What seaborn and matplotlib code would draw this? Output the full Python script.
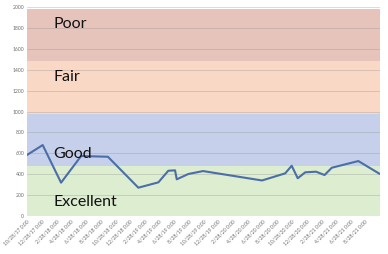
import matplotlib
matplotlib.use("Agg")
import matplotlib.pyplot as plt
import seaborn as sns
import pandas as pd

# ---- data ----
dates = ["2017-10-28", "2018-01-01", "2018-03-18", "2018-06-09", "2018-09-28",
         "2019-02-01", "2019-04-25", "2019-06-05", "2019-07-03", "2019-07-10",
         "2019-08-27", "2019-10-27", "2020-06-27", "2020-10-01", "2020-10-28",
         "2020-11-22", "2020-12-23", "2021-02-06", "2021-03-13", "2021-04-12",
         "2021-07-31", "2021-10-28"]
values = [584, 679, 319, 574, 567,
          271, 322, 433, 437, 351,
          402, 430, 340, 408, 481,
          361, 418, 424, 392, 462,
          526, 402]

band_names = ["Excellent", "Good", "Fair", "Poor"]
band_lower = [0, 480, 980, 1480]
band_upper = [480, 980, 1480, 1980]
band_colors = ["#DDEDD0", "#C6D0EA", "#F9D9C6", "#E7C4BB"]
label_values = [134, 593, 1330, 1837]

tick_dates = ["2017-10-28", "2017-12-28", "2018-02-28", "2018-04-28", "2018-06-28",
              "2018-08-28", "2018-10-28", "2018-12-28", "2019-02-28", "2019-04-28",
              "2019-06-28", "2019-08-28", "2019-10-28", "2019-12-28", "2020-02-28",
              "2020-04-28", "2020-06-28", "2020-08-28", "2020-10-28", "2020-12-28",
              "2021-02-28", "2021-04-28", "2021-06-28", "2021-08-28"]
tick_labels = ["10/28/17 0:00", "12/28/17 0:00", "2/28/18 0:00", "4/28/18 0:00",
               "6/28/18 0:00", "8/28/18 0:00", "10/28/18 0:00", "12/28/18 0:00",
               "2/28/19 0:00", "4/28/19 0:00", "6/28/19 0:00", "8/28/19 0:00",
               "10/28/19 0:00", "12/28/19 0:00", "2/28/20 0:00", "4/28/20 0:00",
               "6/28/20 0:00", "8/28/20 0:00", "10/28/20 0:00", "12/28/20 0:00",
               "2/28/21 0:00", "4/28/21 0:00", "6/28/21 0:00", "8/28/21 0:00"]
y_ticks = [0, 200, 400, 600, 800, 1000, 1200, 1400, 1600, 1800, 2000]

# ---- plot ----
sns.set_theme(style="white")
plt.rcParams["font.family"] = ["Lato", "DejaVu Sans"]

df = pd.DataFrame({"date": pd.to_datetime(dates), "value": values})

fig = plt.figure(figsize=(3.88, 2.54), dpi=100)
ax = fig.add_axes([0.0696, 0.1496, 0.9094, 0.8228])

for lo, hi, c in zip(band_lower, band_upper, band_colors):
    ax.axhspan(lo, hi, color=c, zorder=0, lw=0)

for y in y_ticks:
    ax.axhline(y, color="#8a8a8a", lw=0.6, alpha=0.35, zorder=1)

sns.lineplot(data=df, x="date", y="value", ax=ax, color="#4A6FA8", lw=1.5, zorder=3)

ax.set_xlim(df["date"].iloc[0], df["date"].iloc[-1])
ax.set_ylim(0, 2000)
ax.set_yticks(y_ticks)
ax.set_yticklabels([str(v) for v in y_ticks], fontsize=3.7, color="#6f6f6f")
ax.set_xticks(pd.to_datetime(tick_dates))
ax.set_xticklabels(tick_labels, fontsize=3.7, color="#6f6f6f", rotation=45,
                   ha="right", rotation_mode="anchor")
ax.tick_params(axis="both", length=0, pad=2)
ax.set_xlabel("")
ax.set_ylabel("")
for s in ax.spines.values():
    s.set_visible(False)

for name, yv in zip(band_names, label_values):
    ax.text(0.074, yv, name, transform=ax.get_yaxis_transform(), fontsize=11.5,
            color="#111111", va="center", ha="left", zorder=4)

fig.savefig("out.png", dpi=100)
